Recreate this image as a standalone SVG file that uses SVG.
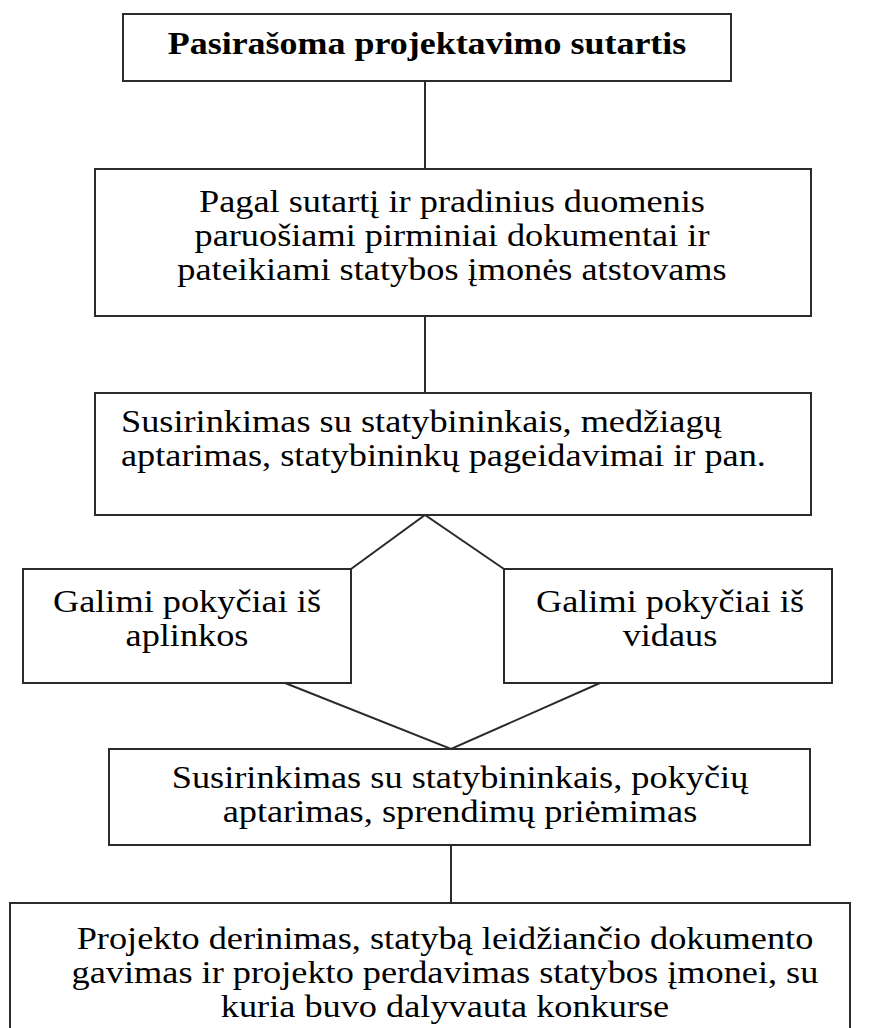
<svg xmlns="http://www.w3.org/2000/svg" width="873" height="1028" viewBox="0 0 873 1028">
  <style>
    .box { fill: #ffffff; stroke: #2b2b2b; stroke-width: 2; }
    .link { fill: none; stroke: #2b2b2b; stroke-width: 2; }
    .t { font-family: "Liberation Serif", "Times New Roman", serif; font-size: 30.5px; fill: #000; text-anchor: middle; }
    .tl { text-anchor: start; }
    .tb { font-weight: bold; font-size: 31px; }
  </style>
  <rect width="873" height="1028" fill="#ffffff"/>

  <!-- connectors -->
  <g id="connectors">
    <line class="link" x1="425" y1="81" x2="425" y2="169"/>
    <line class="link" x1="425" y1="316" x2="425" y2="393"/>
    <polyline class="link" points="351,569 425,515 504,569"/>
    <polyline class="link" points="285,683 451,749 600,683"/>
    <line class="link" x1="451" y1="845" x2="451" y2="903"/>
  </g>

  <g id="contract">
    <rect class="box" x="123" y="14" width="608" height="67"/>
    <text class="t tb" transform="translate(427,54) scale(1.16,1)">Pasirašoma projektavimo sutartis</text>
  </g>

  <g id="documents">
    <rect class="box" x="95" y="169" width="716" height="147"/>
    <text class="t" transform="translate(452,212) scale(1.19,1)">Pagal sutartį ir pradinius duomenis</text>
    <text class="t" transform="translate(452,246) scale(1.19,1)">paruošiami pirminiai dokumentai ir</text>
    <text class="t" transform="translate(452,280) scale(1.19,1)">pateikiami statybos įmonės atstovams</text>
  </g>

  <g id="meeting1">
    <rect class="box" x="95" y="393" width="716" height="122"/>
    <text class="t tl" transform="translate(121,432) scale(1.19,1)">Susirinkimas su statybininkais, medžiagų</text>
    <text class="t tl" transform="translate(121,466) scale(1.19,1)">aptarimas, statybininkų pageidavimai ir pan.</text>
  </g>

  <g id="changes-outside">
    <rect class="box" x="23" y="569" width="328" height="114"/>
    <text class="t" transform="translate(187,612) scale(1.19,1)">Galimi pokyčiai iš</text>
    <text class="t" transform="translate(187,646) scale(1.19,1)">aplinkos</text>
  </g>

  <g id="changes-inside">
    <rect class="box" x="504" y="569" width="328" height="114"/>
    <text class="t" transform="translate(670,612) scale(1.19,1)">Galimi pokyčiai iš</text>
    <text class="t" transform="translate(670,646) scale(1.19,1)">vidaus</text>
  </g>

  <g id="meeting2">
    <rect class="box" x="109" y="749" width="701" height="96"/>
    <text class="t" transform="translate(460,788) scale(1.19,1)">Susirinkimas su statybininkais, pokyčių</text>
    <text class="t" transform="translate(460,822) scale(1.19,1)">aptarimas, sprendimų priėmimas</text>
  </g>

  <g id="handover">
    <rect class="box" x="10" y="903" width="840" height="140"/>
    <text class="t" transform="translate(445,949) scale(1.19,1)">Projekto derinimas, statybą leidžiančio dokumento</text>
    <text class="t" transform="translate(445,983) scale(1.19,1)">gavimas  ir projekto perdavimas statybos įmonei, su</text>
    <text class="t" transform="translate(445,1017) scale(1.19,1)">kuria buvo dalyvauta konkurse</text>
  </g>
</svg>
